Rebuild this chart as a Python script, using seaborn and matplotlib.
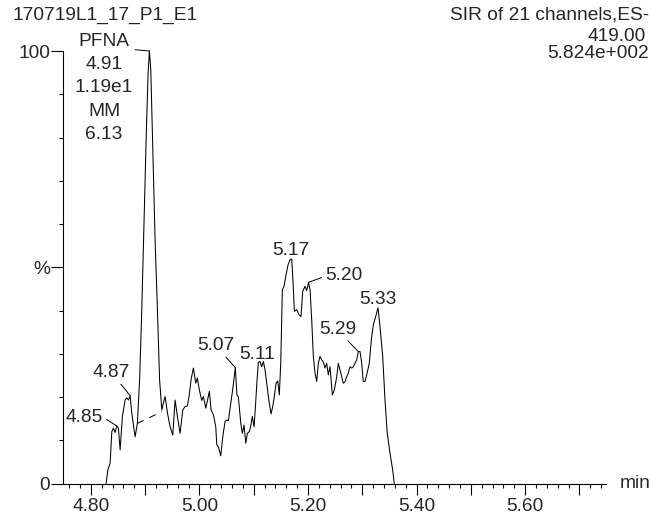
import numpy as np
import pandas as pd
import matplotlib
matplotlib.use("Agg")
import matplotlib.pyplot as plt
import seaborn as sns
from matplotlib.ticker import FixedLocator, MultipleLocator, FuncFormatter

# ---------------- data ----------------
time_min = [
    4.8280, 4.8311, 4.8354, 4.8385, 4.8414, 4.8446, 4.8477, 4.8506, 4.8538, 4.8580,
    4.8630, 4.8661, 4.8691, 4.8722, 4.8753, 4.8783, 4.8814, 4.8856, 4.8897, 4.8937,
    4.8980, 4.9022, 4.9053, 4.9077, 4.9103, 4.9136, 4.9182, 4.9225, 4.9265, 4.9306,
    4.9335, 4.9366, 4.9416, 4.9459, 4.9508, 4.9551, 4.9597, 4.9643, 4.9692, 4.9735,
    4.9777, 4.9808, 4.9845, 4.9888, 4.9932, 4.9961, 4.9998, 5.0042, 5.0072, 5.0116,
    5.0149, 5.0182, 5.0214, 5.0256, 5.0300, 5.0319, 5.0348, 5.0392, 5.0429, 5.0471,
    5.0503, 5.0532, 5.0564, 5.0615, 5.0660, 5.0690, 5.0716, 5.0761, 5.0790, 5.0821,
    5.0853, 5.0882, 5.0919, 5.0945, 5.0974, 5.1006, 5.1033, 5.1061, 5.1085, 5.1116,
    5.1147, 5.1177, 5.1208, 5.1239, 5.1282, 5.1319, 5.1350, 5.1379, 5.1411, 5.1442,
    5.1471, 5.1497, 5.1527, 5.1558, 5.1595, 5.1632, 5.1668, 5.1700, 5.1729, 5.1748,
    5.1792, 5.1834, 5.1871, 5.1902, 5.1945, 5.1976, 5.2009, 5.2037, 5.2068, 5.2098,
    5.2129, 5.2160, 5.2190, 5.2221, 5.2252, 5.2282, 5.2313, 5.2344, 5.2374, 5.2405,
    5.2448, 5.2484, 5.2529, 5.2558, 5.2589, 5.2621, 5.2650, 5.2681, 5.2713, 5.2742,
    5.2773, 5.2805, 5.2834, 5.2866, 5.2897, 5.2926, 5.2958, 5.2989, 5.3018, 5.3050,
    5.3081, 5.3129, 5.3166, 5.3203, 5.3247, 5.3289, 5.3326, 5.3376, 5.3418, 5.3460,
    5.3510, 5.3560, 5.3589,
]
intensity_pct = [
    0.0, 3.1, 4.7, 12.0, 12.8, 11.8, 13.3, 12.8, 7.8, 15.5,
    19.3, 19.8, 19.3, 20.3, 16.3, 13.5, 10.8, 13.9, 24.0, 40.2,
    61.0, 81.8, 94.6, 100.0, 95.7, 79.5, 56.4, 40.2, 24.0, 17.0,
    18.6, 20.1, 15.9, 13.1, 11.2, 19.3, 15.2, 11.6, 17.0, 17.8,
    17.9, 20.1, 24.0, 26.7, 23.2, 24.4, 21.6, 19.2, 20.1, 17.4,
    19.3, 21.3, 17.0, 15.9, 13.1, 8.9, 8.5, 6.4, 10.8, 14.3,
    14.7, 14.5, 17.4, 22.0, 26.8, 20.5, 20.1, 13.9, 11.6, 13.5,
    9.3, 11.6, 12.0, 13.3, 15.5, 13.1, 18.2, 24.0, 28.0, 28.2,
    27.0, 28.2, 26.3, 23.2, 18.9, 16.1, 17.8, 20.1, 23.2, 23.7,
    20.5, 27.8, 44.8, 45.6, 48.3, 50.6, 51.7, 51.9, 45.3, 39.8,
    40.2, 39.0, 38.6, 44.4, 45.6, 44.6, 46.5, 44.8, 37.8, 29.4,
    25.5, 23.6, 27.8, 29.4, 28.6, 28.1, 26.7, 27.8, 25.1, 27.0,
    20.5, 21.6, 24.7, 27.8, 26.3, 24.7, 23.2, 23.5, 24.7, 25.5,
    27.0, 26.7, 27.0, 27.8, 28.6, 30.5, 30.5, 27.8, 23.6, 23.6,
    25.1, 27.8, 33.2, 36.7, 38.6, 40.6, 36.3, 29.4, 19.3, 11.6,
    7.0, 3.1, 0.0,
]
baseline_time = [4.8856, 4.9306]
baseline_pct = [13.9, 16.6]

peak_labels = ["4.85", "4.87", "5.07", "5.11", "5.17", "5.20", "5.29", "5.33"]
main_peak_time = "4.91"
main_peak_lines = ["PFNA", "4.91", "1.19e1", "MM", "6.13"]

header_left = "170719L1_17_P1_E1"
header_right = ["SIR of 21 channels,ES-", "419.00", "5.824e+002"]
x_major_ticks = [4.8, 4.9, 5.0, 5.1, 5.2, 5.3, 5.4, 5.5, 5.6, 5.7]
x_tick_labels = {4.8: "4.80", 5.0: "5.00", 5.2: "5.20", 5.4: "5.40", 5.6: "5.60"}
y_major_ticks = [0, 50, 100]
y_tick_labels = ["0", "%", "100"]
x_unit = "min"

# ---------------- style ----------------
W, H, DPI = 651, 521, 100
FS = 13.8
PX = 72.0 / DPI  # pixels -> points

sns.set_style("ticks")
plt.rcParams["font.family"] = ["Liberation Sans", "DejaVu Sans"]
plt.rcParams["lines.scale_dashes"] = False

fig = plt.figure(figsize=(W / DPI, H / DPI), dpi=DPI)
ax_l, ax_r, ax_b, ax_t = 62.7, 606.0, 483.5, 51.0
ax = fig.add_axes([ax_l / W, 1 - ax_b / H, (ax_r - ax_l) / W, (ax_b - ax_t) / H])

df = pd.DataFrame({"time": time_min, "pct": intensity_pct})
sns.lineplot(data=df, x="time", y="pct", ax=ax, color="black", lw=0.75,
             estimator=None, sort=False, clip_on=False)
ax.plot(baseline_time, baseline_pct, color="black", lw=0.75, dashes=(5, 4.5))

ax.set_xlim(4.748, 5.749)
ax.set_ylim(0, 100)
ax.set_xlabel("")
ax.set_ylabel("")
for s in ["top", "right"]:
    ax.spines[s].set_visible(False)
for s in ["left", "bottom"]:
    ax.spines[s].set_linewidth(0.8)
    ax.spines[s].set_color("black")

ax.xaxis.set_major_locator(FixedLocator(x_major_ticks))
ax.xaxis.set_major_formatter(FuncFormatter(
    lambda v, p: next((lab for k, lab in x_tick_labels.items() if abs(k - v) < 1e-6), "")))
ax.xaxis.set_minor_locator(MultipleLocator(0.02))
ax.yaxis.set_major_locator(FixedLocator(y_major_ticks))
ax.set_yticklabels(y_tick_labels)
ax.yaxis.set_minor_locator(MultipleLocator(10))

ax.tick_params(axis="x", which="major", length=8, width=0.8, pad=2.5,
               labelsize=FS, color="black", direction="out")
ax.tick_params(axis="x", which="minor", length=3.2, width=0.8, color="black", direction="out")
ax.tick_params(axis="y", which="major", length=8.6, width=0.8, pad=0.5,
               labelsize=FS, color="black", direction="out")
ax.tick_params(axis="y", which="minor", length=3.2, width=0.8, color="black", direction="out")

ax.text((620 - ax_l) / (ax_r - ax_l), 0, x_unit, transform=ax.transAxes,
        ha="left", va="center", fontsize=FS)

t_arr = np.array(time_min)
v_arr = np.array(intensity_pct)


def apex(label):
    t0 = float(label)
    m = np.abs(t_arr - t0) <= 0.0046
    i = np.where(m)[0][np.argmax(v_arr[m])]
    return t_arr[i], v_arr[i]


# label placement: (dx px, dy px to baseline, leader relpos or None)
label_style = {
    "4.85": (-32.2, 4.1, (1.0, 0.5)),
    "4.87": (-19.0, 18.8, (0.64, 0.15)),
    "5.07": (-19.8, 17.8, (0.68, 0.05)),
    "5.11": (-3.0, 2.8, None),
    "5.17": (-1.2, 4.4, None),
    "5.20": (35.0, 2.6, (0.0, 0.44)),
    "5.29": (-20.8, 17.8, (0.67, 0.07)),
    "5.33": (-0.5, 4.4, None),
}
for lab in peak_labels:
    xt, yt = apex(lab)
    dx, dy, rel = label_style[lab]
    kw = {}
    if rel is not None:
        kw["arrowprops"] = dict(arrowstyle="-", lw=0.7, color="black",
                                shrinkA=0, shrinkB=0, relpos=rel)
    ax.annotate(lab, xy=(xt, yt), xytext=(dx * PX, dy * PX), textcoords="offset points",
                ha="center", va="baseline", fontsize=FS, annotation_clip=False, **kw)

# main peak block
mx, my = apex(main_peak_time)
for k, line in enumerate(main_peak_lines):
    yc = 40 + 23.3 * k
    ax.annotate(line, xy=(mx, my), xytext=((104 - 149.3) * PX, (52 - (yc + 6.9)) * PX),
                textcoords="offset points", ha="center", va="baseline", fontsize=FS,
                annotation_clip=False)
ax.annotate("", xy=(mx, my), xytext=(-14.3 * PX, 1.3 * PX), textcoords="offset points",
            annotation_clip=False,
            arrowprops=dict(arrowstyle="-", lw=0.7, color="black", shrinkA=0, shrinkB=0))

# header
fig.text(13 / W, 1 - 15.5 / H, header_left, ha="left", va="center", fontsize=FS)
right_ends = [649, 646, 649]
right_ys = [15.5, 36.7, 53.0]
for txt, xe, yc in zip(header_right, right_ends, right_ys):
    fig.text(xe / W, 1 - yc / H, txt, ha="right", va="center", fontsize=FS)

fig.savefig("out.png", dpi=DPI)
